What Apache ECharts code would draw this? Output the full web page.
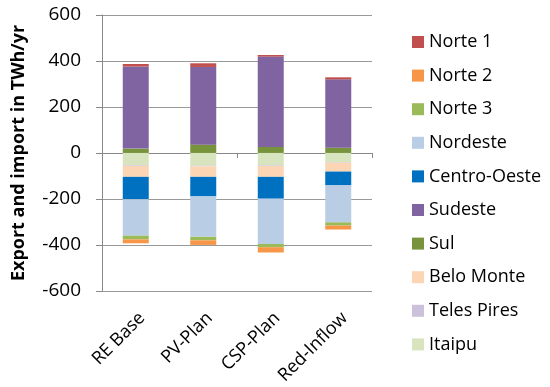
<!DOCTYPE html>
<html>
<head>
<meta charset="utf-8">
<script src="https://cdn.jsdelivr.net/npm/echarts@6/dist/echarts.min.js"></script>
<style>html,body{margin:0;padding:0;background:#fff}#c{width:550px;height:387px}</style>
</head>
<body>
<div id="c"></div>
<script>
var categories = ['RE Base', 'PV-Plan', 'CSP-Plan', 'Red-Inflow'];
var yTicks = [-600, -400, -200, 0, 200, 400, 600];
// series in stacking order (Excel order); legend shows reverse
var itaipu      = [-53, -55, -54, -41];
var telesPires  = [-3, -3, -3, -2];
var beloMonte   = [-48, -46, -47, -38];
var sul         = [19, 36, 26, 23];
var sudeste     = [357, 338, 393, 297];
var centroOeste = [-97, -85, -95, -60];
var nordeste    = [-159, -176, -197, -161];
var norte3      = [-16, -15, -14, -14];
var norte2      = [-17, -20, -23, -17];
var norte1      = [11, 16, 7, 9];

var seriesDefs = [
  ['Itaipu', itaipu, '#D7E4BD'],
  ['Teles Pires', telesPires, '#CCC1DA'],
  ['Belo Monte', beloMonte, '#FCD5B5'],
  ['Sul', sul, '#77933C'],
  ['Sudeste', sudeste, '#8064A2'],
  ['Centro-Oeste', centroOeste, '#0070C0'],
  ['Nordeste', nordeste, '#B9CDE5'],
  ['Norte 3', norte3, '#9BBB59'],
  ['Norte 2', norte2, '#F79646'],
  ['Norte 1', norte1, '#C0504D']
];
var legendOrder = seriesDefs.map(function(s){return s[0];}).reverse();

var font = '"Open Sans", "Liberation Sans", sans-serif';
var chart = echarts.init(document.getElementById('c'), null, {renderer: 'canvas'});
chart.setOption({
  animation: false,
  backgroundColor: '#fff',
  textStyle: {fontFamily: font, color: '#000'},
  grid: {left: 102, top: 15, width: 270, bottom: 96},
  legend: {
    orient: 'vertical', left: 407, top: 27,
    itemWidth: 12, itemHeight: 12, itemGap: 13.6, icon: 'rect',
    data: legendOrder,
    textStyle: {fontFamily: font, fontSize: 18, color: '#000', lineHeight: 20}
  },
  xAxis: [{
    type: 'category', data: categories,
    axisLine: {onZero: false, show: false},
    axisTick: {show: false},
    axisLabel: {rotate: 45, fontSize: 18, color: '#000', margin: 18, fontFamily: font, interval: 0,
      align: 'right', verticalAlign: 'top'},
    splitLine: {show: false}
  }, {
    type: 'category', data: categories, position: 'bottom',
    axisLine: {onZero: true, lineStyle: {color: '#888', width: 1}},
    axisTick: {show: true, length: 5, inside: false, lineStyle: {color: '#888'}},
    axisLabel: {show: false}
  }],
  yAxis: {
    type: 'value', min: yTicks[0], max: yTicks[yTicks.length - 1], interval: 200,
    name: 'Export and import in TWh/yr', nameLocation: 'middle', nameGap: 74,
    nameTextStyle: {fontFamily: font, fontSize: 18, fontWeight: 'bold', color: '#000'},
    axisLine: {show: true, lineStyle: {color: '#888'}},
    axisTick: {show: true, length: 6, lineStyle: {color: '#888'}},
    axisLabel: {fontSize: 19, color: '#000', margin: 21, fontFamily: font},
    splitLine: {show: true, lineStyle: {color: '#999', width: 1}}
  },
  series: seriesDefs.map(function(s){
    return {
      name: s[0], type: 'bar', stack: 'total', data: s[1],
      barWidth: 26, xAxisIndex: 0,
      itemStyle: {color: s[2]}
    };
  })
});
</script>
</body>
</html>
